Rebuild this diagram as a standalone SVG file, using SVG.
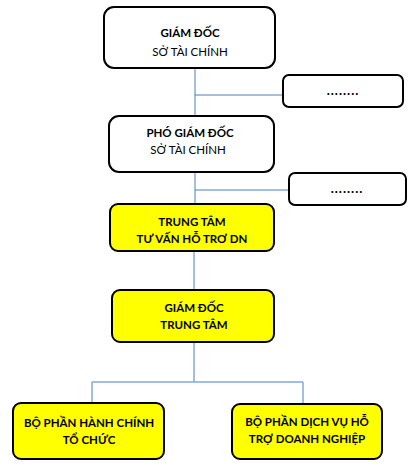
<svg xmlns="http://www.w3.org/2000/svg" width="414" height="467" viewBox="0 0 414 467">
<style>
.box{fill:#ffffff;stroke:#000;stroke-width:2}
.yel{fill:#ffff00;stroke:#000;stroke-width:2}
text{font-family:Lato,"Liberation Sans",sans-serif;font-size:11.5px;text-anchor:middle;fill:#000}
.b{font-weight:bold}
.d{font-weight:bold;font-size:13px;letter-spacing:1px}
.c1{stroke:#4a7ebb;stroke-width:1;fill:none}
.c2{stroke:#86a8d8;stroke-width:1.5;fill:none}
</style>
<rect width="414" height="467" fill="#fff"/>
<g id="connectors">
<path class="c1" d="M195 68V116M195 95H283M195 172V204M195 190H289M194 251V290"/>
<path class="c2" d="M194 342V382M92 382H303M92 382V403M303 382V404"/>
</g>
<g id="n1"><rect class="box" x="104" y="7" width="171" height="61" rx="10"/><text class="b" x="190" y="37">GIÁM ĐỐC</text><text x="190" y="56">SỞ TÀI CHÍNH</text></g>
<g id="n1b"><rect class="box" x="283" y="75" width="120" height="32" rx="6"/><text class="d" x="343" y="95">........</text></g>
<g id="n2"><rect class="box" x="109" y="116" width="165" height="56" rx="10"/><text class="b" x="190" y="137">PHÓ GIÁM ĐỐC</text><text x="188" y="154">SỞ TÀI CHÍNH</text></g>
<g id="n2b"><rect class="box" x="289" y="173" width="117" height="32" rx="6"/><text class="d" x="347" y="193">........</text></g>
<g id="n3"><rect class="yel" x="110" y="204" width="164" height="47" rx="8"/><text class="b" x="192" y="226">TRUNG TÂM</text><text class="b" x="192" y="243">TƯ VẤN HỖ TRƠ DN</text></g>
<g id="n4"><rect class="yel" x="112" y="290" width="162" height="52" rx="8"/><text class="b" x="194" y="312">GIÁM ĐỐC</text><text class="b" x="194" y="329">TRUNG TÂM</text></g>
<g id="n5"><rect class="yel" x="13" y="403" width="151" height="56" rx="8"/><text class="b" x="89" y="427">BỘ PHẦN HÀNH CHÍNH</text><text class="b" x="89" y="444">TỔ CHỨC</text></g>
<g id="n6"><rect class="yel" x="232" y="404" width="150" height="55" rx="8"/><text class="b" x="307" y="426">BỘ PHẦN DỊCH VỤ HỖ</text><text class="b" x="307" y="443">TRỢ DOANH NGHIỆP</text></g>
</svg>
